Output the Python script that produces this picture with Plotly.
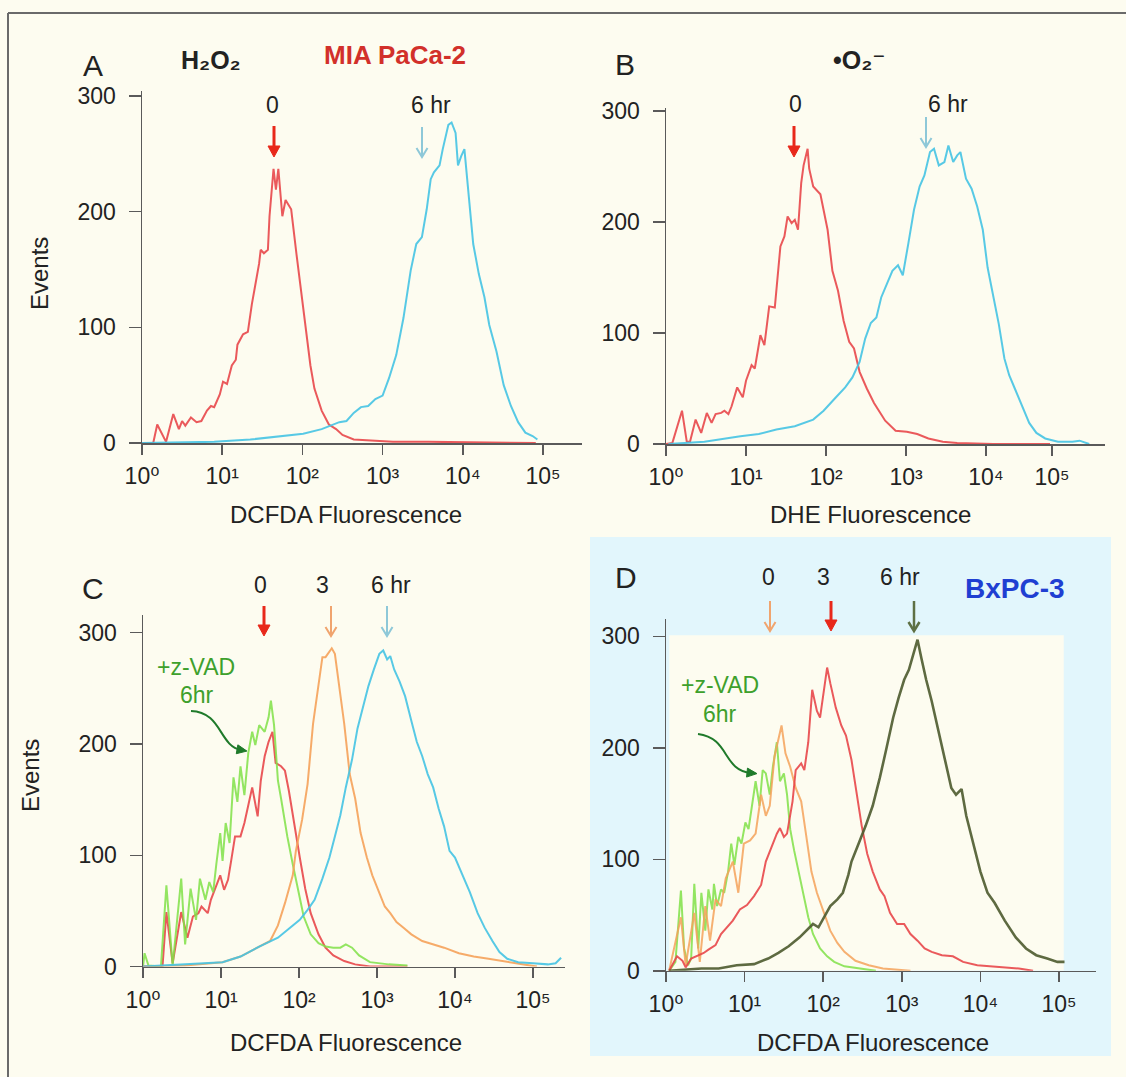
import math
import plotly.graph_objects as go

W, H = 1126, 1077
FONT = "Liberation Sans, Arial, DejaVu Sans, sans-serif"
TXT = "#222222"
AX = "#5a5a5a"

RED = "#e8474a"
CYAN = "#45c3e3"
ORANGE = "#f5a25a"
GREEN = "#80e048"
OLIVE = "#4d5a2e"

# ---------------- data (x in log10 units of fluorescence, y = events) -------------
a_red_log = [0, 0.14, 0.19, 0.25, 0.30, 0.39, 0.46, 0.50, 0.54, 0.61, 0.68, 0.74, 0.81, 0.86, 0.90,
             0.97, 1.01, 1.06, 1.12, 1.17, 1.19, 1.26, 1.32, 1.37, 1.41, 1.46, 1.48, 1.52, 1.57, 1.59,
             1.64, 1.67, 1.70, 1.75, 1.79, 1.86, 1.93, 1.99, 2.04, 2.10, 2.15, 2.24, 2.33, 2.42, 2.50,
             2.64, 2.91, 3.13, 3.57, 4.91]
a_red_cnt = [0, 0, 16, 7, 1, 25, 12, 19, 15, 22, 18, 19, 28, 32, 31,
             42, 53, 51, 67, 72, 85, 94, 96, 120, 136, 155, 167, 164, 167, 196,
             237, 219, 237, 196, 210, 202, 161, 126, 102, 67, 47, 28, 16, 12, 7,
             3, 2, 1, 1, 0]

a_cyan_log = [0, 0.90, 1.35, 1.79, 2.01, 2.24, 2.46, 2.55, 2.64, 2.73, 2.82, 2.91, 3.00, 3.08, 3.17,
              3.26, 3.35, 3.42, 3.49, 3.55, 3.60, 3.64, 3.71, 3.75, 3.82, 3.86, 3.91, 3.94, 3.98, 4.02,
              4.06, 4.13, 4.20, 4.27, 4.33, 4.42, 4.51, 4.60, 4.69, 4.78, 4.87, 4.93]
a_cyan_cnt = [0, 1, 3, 6, 8, 12, 18, 19, 26, 31, 32, 38, 41, 56, 76,
              108, 149, 172, 178, 202, 228, 234, 240, 254, 275, 277, 268, 240, 248, 254,
              222, 172, 146, 126, 102, 79, 50, 32, 18, 9, 6, 3]

b_red_log = [0, 0.08, 0.20, 0.26, 0.30, 0.37, 0.44, 0.51, 0.57, 0.62, 0.69, 0.73, 0.78, 0.82, 0.89,
             0.96, 1.00, 1.07, 1.11, 1.18, 1.23, 1.29, 1.36, 1.43, 1.48, 1.52, 1.57, 1.61, 1.65, 1.69,
             1.72, 1.77, 1.79, 1.84, 1.93, 2.02, 2.08, 2.15, 2.22, 2.29, 2.35, 2.42, 2.51, 2.60, 2.74,
             2.87, 3.01, 3.14, 3.28, 3.46, 3.64, 4.09, 4.80]
b_red_cnt = [0, 1, 30, 2, 2, 22, 10, 28, 19, 27, 28, 30, 27, 34, 51,
             42, 57, 71, 68, 98, 89, 124, 123, 178, 187, 205, 199, 202, 193, 235,
             251, 266, 248, 232, 225, 193, 156, 138, 111, 92, 86, 65, 50, 37, 21,
             12, 11, 9, 5, 2, 1, 0, 0]

b_cyan_log = [0.03, 0.48, 0.93, 1.16, 1.38, 1.61, 1.84, 1.97, 2.11, 2.24, 2.33, 2.42, 2.49, 2.56, 2.63,
              2.69, 2.76, 2.83, 2.90, 2.96, 3.03, 3.10, 3.17, 3.23, 3.30, 3.35, 3.41, 3.48, 3.53, 3.59,
              3.64, 3.68, 3.75, 3.82, 3.89, 3.96, 4.02, 4.09, 4.16, 4.23, 4.29, 4.36, 4.45, 4.54, 4.63,
              4.74, 4.90, 5.08, 5.17, 5.29]
b_cyan_cnt = [0, 2, 7, 9, 13, 16, 22, 30, 41, 51, 60, 74, 95, 109, 114,
              132, 144, 156, 161, 152, 181, 211, 232, 242, 263, 266, 251, 254, 269, 254,
              260, 263, 239, 230, 214, 193, 159, 132, 108, 77, 62, 50, 34, 19, 10,
              5, 2, 2, 3, 0]

c_red_log = [0, 0.25, 0.30, 0.38, 0.49, 0.57, 0.64, 0.71, 0.75, 0.83, 0.87, 0.94, 0.99, 1.04, 1.09,
             1.13, 1.18, 1.25, 1.30, 1.35, 1.40, 1.47, 1.51, 1.56, 1.61, 1.66, 1.70, 1.77, 1.82, 1.87,
             1.94, 2.01, 2.08, 2.15, 2.25, 2.34, 2.44, 2.58, 2.72, 2.91, 3.39]
c_red_cnt = [0, 0, 49, 3, 49, 26, 45, 48, 54, 48, 60, 73, 82, 69, 78,
             95, 117, 117, 129, 145, 161, 135, 167, 189, 202, 211, 183, 180, 176, 158,
             126, 98, 70, 48, 29, 17, 10, 5, 2, 0, 0]

c_green_log = [0, 0.02, 0.07, 0.23, 0.30, 0.38, 0.49, 0.54, 0.61, 0.68, 0.73, 0.80, 0.85, 0.90, 0.94,
               0.99, 1.02, 1.06, 1.11, 1.16, 1.21, 1.25, 1.30, 1.35, 1.40, 1.44, 1.49, 1.56, 1.61, 1.64,
               1.68, 1.73, 1.77, 1.85, 1.92, 1.99, 2.06, 2.15, 2.25, 2.34, 2.44, 2.53, 2.60, 2.68, 2.77,
               2.91, 3.15, 3.39]
c_green_cnt = [0, 12, 1, 0, 73, 1, 79, 20, 70, 42, 79, 60, 76, 67, 92,
               120, 95, 129, 111, 170, 148, 180, 154, 192, 211, 199, 217, 211, 224, 239,
               217, 167, 151, 117, 92, 67, 45, 29, 21, 18, 17, 17, 20, 17, 10,
               4, 2, 1]

c_orange_log = [0, 0.54, 1.02, 1.25, 1.49, 1.63, 1.73, 1.82, 1.92, 1.96, 2.04, 2.11, 2.18, 2.25, 2.30,
                2.34, 2.42, 2.46, 2.51, 2.58, 2.65, 2.72, 2.79, 2.87, 2.94, 3.01, 3.10, 3.17, 3.25, 3.34,
                3.44, 3.58, 3.72, 3.86, 4.05, 4.24, 4.43, 4.62, 4.81, 5.05]
c_orange_cnt = [0, 1, 4, 9, 18, 23, 37, 57, 82, 104, 132, 164, 218, 256, 278,
                278, 286, 281, 256, 218, 173, 151, 120, 98, 82, 70, 54, 48, 40, 35,
                29, 23, 20, 17, 12, 9, 7, 5, 3, 0]

c_cyan_log = [0, 0.54, 1.02, 1.25, 1.49, 1.73, 1.92, 2.01, 2.11, 2.20, 2.30, 2.39, 2.46, 2.53, 2.60,
              2.68, 2.75, 2.82, 2.89, 2.96, 3.03, 3.08, 3.13, 3.17, 3.22, 3.29, 3.36, 3.44, 3.51, 3.58,
              3.65, 3.72, 3.79, 3.86, 3.93, 4.00, 4.10, 4.19, 4.29, 4.38, 4.48, 4.57, 4.67, 4.81, 5.00,
              5.19, 5.29, 5.36]
c_cyan_cnt = [0, 2, 4, 9, 18, 26, 37, 42, 51, 60, 79, 98, 117, 136, 161,
              186, 214, 233, 252, 267, 281, 284, 276, 279, 267, 256, 243, 221, 202, 189,
              173, 161, 142, 126, 104, 98, 82, 67, 48, 35, 23, 13, 7, 4, 3,
              2, 3, 8]

d_green_log = [0.04, 0.12, 0.19, 0.23, 0.28, 0.32, 0.36, 0.41, 0.45, 0.50, 0.54, 0.59, 0.61, 0.65, 0.70,
               0.74, 0.79, 0.83, 0.87, 0.92, 0.96, 1.01, 1.05, 1.10, 1.14, 1.19, 1.23, 1.27, 1.32, 1.36,
               1.41, 1.45, 1.50, 1.54, 1.58, 1.63, 1.67, 1.74, 1.81, 1.87, 1.96, 2.05, 2.14, 2.27, 2.45,
               2.67]
d_green_cnt = [0, 8, 72, 20, 5, 11, 78, 20, 70, 36, 73, 55, 78, 58, 73,
               70, 89, 114, 95, 120, 114, 133, 127, 152, 170, 148, 180, 177, 158, 183,
               205, 170, 177, 158, 127, 108, 95, 70, 48, 33, 20, 13, 8, 4, 2,
               0]

d_orange_log = [0.04, 0.19, 0.25, 0.36, 0.43, 0.50, 0.56, 0.63, 0.70, 0.76, 0.85, 0.92, 0.99, 1.07, 1.14,
                1.21, 1.27, 1.32, 1.38, 1.43, 1.47, 1.52, 1.58, 1.65, 1.72, 1.78, 1.85, 1.92, 2.01, 2.09,
                2.18, 2.27, 2.41, 2.58, 2.76, 3.11]
d_orange_cnt = [0, 48, 5, 52, 8, 58, 27, 64, 58, 83, 98, 70, 114, 117, 123,
                158, 139, 148, 192, 208, 220, 195, 183, 164, 152, 123, 89, 70, 52, 36,
                25, 17, 9, 5, 2, 0]

d_red_log = [0.04, 0.14, 0.21, 0.25, 0.32, 0.41, 0.48, 0.54, 0.63, 0.70, 0.76, 0.85, 0.94, 1.03, 1.12,
             1.21, 1.27, 1.34, 1.41, 1.45, 1.50, 1.54, 1.61, 1.65, 1.72, 1.76, 1.81, 1.86, 1.92, 1.96,
             2.01, 2.05, 2.09, 2.16, 2.23, 2.29, 2.36, 2.43, 2.49, 2.56, 2.63, 2.72, 2.78, 2.85, 2.94,
             3.03, 3.11, 3.20, 3.29, 3.38, 3.51, 3.65, 3.78, 3.96, 4.14, 4.31, 4.49, 4.67]
d_red_cnt = [0, 13, 9, 3, 11, 14, 16, 19, 23, 33, 38, 45, 55, 59, 67,
             77, 98, 111, 123, 128, 120, 123, 152, 180, 186, 180, 205, 252, 233, 227,
             255, 272, 258, 236, 220, 211, 189, 158, 130, 105, 89, 73, 67, 52, 42,
             42, 33, 27, 20, 17, 14, 13, 8, 5, 4, 3, 2, 0]

d_olive_log = [0.04, 0.45, 0.67, 0.90, 1.12, 1.30, 1.43, 1.56, 1.70, 1.81, 1.87, 1.94, 2.01, 2.09, 2.18,
               2.25, 2.32, 2.36, 2.45, 2.54, 2.63, 2.72, 2.80, 2.89, 2.96, 3.03, 3.09, 3.16, 3.20, 3.25,
               3.31, 3.38, 3.47, 3.56, 3.63, 3.69, 3.76, 3.82, 3.91, 4.00, 4.09, 4.18, 4.31, 4.45, 4.58,
               4.71, 4.85, 4.98, 5.07]
d_olive_cnt = [0, 2, 2, 5, 6, 11, 16, 22, 30, 38, 42, 39, 48, 58, 64,
               70, 86, 98, 114, 130, 148, 173, 198, 227, 245, 261, 270, 288, 297, 280,
               261, 242, 214, 183, 164, 158, 163, 139, 114, 89, 70, 61, 45, 30, 20,
               14, 11, 8, 8]

y_ticks = [0, 100, 200, 300]
x_tick_exp = [0, 1, 2, 3, 4, 5]
x_tick_text = ["10⁰", "10¹", "10²", "10³", "10⁴", "10⁵"]
# panel B: the printed 10^5 label sits at ~10^4.83 in the source figure
b_tick_exp = [0, 1, 2, 3, 4, 4.825]

# ---------------- layout geometry (pixels) ----------------
geo = {
    1: dict(left=142, right=582, bottom=443, top=91, decade=80.2, per100=115.7, ticks=x_tick_exp),
    2: dict(left=666, right=1105, bottom=444, top=108, decade=80.0, per100=111.0, ticks=b_tick_exp),
    3: dict(left=143, right=565, bottom=966.6, top=615, decade=78.0, per100=111.3, ticks=x_tick_exp),
    4: dict(left=666, right=1096, bottom=970.8, top=619, decade=78.6, per100=111.5, ticks=x_tick_exp),
}


def fx(p):
    return p / W


def fy(p):
    return 1 - p / H


fig = go.Figure()


def add_curve(panel, logs, cnts, color, width=2.0, opacity=0.9):
    fig.add_trace(go.Scatter(
        x=[10 ** v for v in logs], y=cnts, mode="lines",
        line=dict(color=color, width=width), opacity=opacity,
        xaxis="x" if panel == 1 else "x%d" % panel,
        yaxis="y" if panel == 1 else "y%d" % panel,
        hoverinfo="skip", showlegend=False))


add_curve(1, a_red_log, a_red_cnt, RED)
add_curve(1, a_cyan_log, a_cyan_cnt, CYAN)
add_curve(2, b_red_log, b_red_cnt, RED)
add_curve(2, b_cyan_log, b_cyan_cnt, CYAN)
add_curve(3, c_red_log, c_red_cnt, RED)
add_curve(3, c_green_log, c_green_cnt, GREEN, opacity=0.85)
add_curve(3, c_orange_log, c_orange_cnt, ORANGE)
add_curve(3, c_cyan_log, c_cyan_cnt, CYAN)
add_curve(4, d_green_log, d_green_cnt, GREEN, opacity=0.85)
add_curve(4, d_orange_log, d_orange_cnt, ORANGE, opacity=0.85)
add_curve(4, d_red_log, d_red_cnt, RED)
add_curve(4, d_olive_log, d_olive_cnt, OLIVE, width=2.6)

layout = dict(
    width=W, height=H, autosize=False,
    margin=dict(l=0, r=0, t=0, b=0, pad=0, autoexpand=False),
    paper_bgcolor="#fdfcf0", plot_bgcolor="rgba(0,0,0,0)",
    showlegend=False, hovermode=False,
    font=dict(family=FONT, color=TXT),
)

for p, g in geo.items():
    sx = "" if p == 1 else str(p)
    xmax = (g["right"] - g["left"]) / g["decade"]
    ymax = (g["bottom"] - g["top"]) / g["per100"] * 100
    layout["xaxis" + sx] = dict(
        type="log", range=[0, xmax], domain=[fx(g["left"]), fx(g["right"])],
        anchor="y" + sx, showline=True, linecolor=AX, linewidth=1.5,
        ticks="outside", ticklen=10, tickwidth=1.5, tickcolor=AX,
        tickvals=[10 ** e for e in g["ticks"]], ticktext=x_tick_text,
        tickfont=dict(family=FONT, size=23, color=TXT), ticklabelstandoff=2,
        showgrid=False, zeroline=False, fixedrange=True, automargin=False)
    layout["yaxis" + sx] = dict(
        range=[0, ymax], domain=[fy(g["bottom"]), fy(g["top"])],
        anchor="x" + sx, showline=True, linecolor=AX, linewidth=1.5,
        ticks="outside", ticklen=12, tickwidth=1.5, tickcolor=AX,
        tickvals=y_ticks, tickfont=dict(family=FONT, size=23, color=TXT),
        ticklabelstandoff=8, showgrid=False, zeroline=False, fixedrange=True, automargin=False)

fig.update_layout(**layout)

shapes = []
# outer frame (top + left lines)
shapes.append(dict(type="line", xref="paper", yref="paper", x0=fx(8), x1=1, y0=fy(13), y1=fy(13),
                   line=dict(color="#6a6a6a", width=2)))
shapes.append(dict(type="line", xref="paper", yref="paper", x0=fx(8), x1=fx(8), y0=fy(13), y1=0,
                   line=dict(color="#6a6a6a", width=2)))
# panel D light-blue background
shapes.append(dict(type="rect", xref="paper", yref="paper", layer="below",
                   x0=fx(590), x1=fx(1111), y0=fy(1056), y1=fy(537),
                   fillcolor="#e2f6fc", line=dict(width=0)))
# panel D cream plotting area
shapes.append(dict(type="rect", xref="x4", yref="y4", layer="below",
                   x0=1.1, x1=1.15e5, y0=0, y1=301,
                   fillcolor="#fdfcf0", line=dict(width=0)))


def pth(points, close=False):
    s = "M " + " L ".join("%f,%f" % (fx(x), fy(y)) for x, y in points)
    return s + (" Z" if close else "")


def down_arrow(x, ytail, ytip, color, width=2, filled=False):
    if filled:
        shapes.append(dict(type="line", xref="paper", yref="paper", x0=fx(x), x1=fx(x),
                           y0=fy(ytail), y1=fy(ytip - 8), line=dict(color=color, width=width)))
        shapes.append(dict(type="path", xref="paper", yref="paper",
                           path=pth([(x - 6, ytip - 11), (x + 6, ytip - 11), (x, ytip)], close=True),
                           fillcolor=color, line=dict(color=color, width=1)))
    else:
        shapes.append(dict(type="line", xref="paper", yref="paper", x0=fx(x), x1=fx(x),
                           y0=fy(ytail), y1=fy(ytip - 1), line=dict(color=color, width=width)))
        shapes.append(dict(type="path", xref="paper", yref="paper",
                           path=pth([(x - 5.5, ytip - 9), (x, ytip), (x + 5.5, ytip - 9)]),
                           line=dict(color=color, width=width)))


def curved_arrow(p0, c1, c2, p3, color="#1f7a2a"):
    shapes.append(dict(type="path", xref="paper", yref="paper",
                       path="M %f,%f C %f,%f %f,%f %f,%f" % (fx(p0[0]), fy(p0[1]), fx(c1[0]), fy(c1[1]),
                                                             fx(c2[0]), fy(c2[1]), fx(p3[0]), fy(p3[1])),
                       line=dict(color=color, width=2)))
    dx, dy = p3[0] - c2[0], p3[1] - c2[1]
    n = math.hypot(dx, dy)
    ux, uy = dx / n, dy / n
    tip = (p3[0] + 6 * ux, p3[1] + 6 * uy)
    base = (tip[0] - 10 * ux, tip[1] - 10 * uy)
    px_, py_ = -uy, ux
    shapes.append(dict(type="path", xref="paper", yref="paper",
                       path=pth([tip, (base[0] + 4.5 * px_, base[1] + 4.5 * py_),
                                 (base[0] - 4.5 * px_, base[1] - 4.5 * py_)], close=True),
                       fillcolor=color, line=dict(color=color, width=1)))


# time-point arrows
down_arrow(274, 126, 157, "#e8281a", width=3, filled=True)
down_arrow(422, 127, 157, "#8ec8d8", width=2)
down_arrow(794, 126, 157, "#e8281a", width=3, filled=True)
down_arrow(926, 117, 147, "#8ec8d8", width=2)
down_arrow(264, 606, 636, "#e8281a", width=3, filled=True)
down_arrow(331, 606, 636, "#f0a46e", width=2)
down_arrow(387, 606, 636, "#8ec8d8", width=2)
down_arrow(770, 601, 631, "#f0a46e", width=2)
down_arrow(831, 601, 631, "#e8281a", width=3, filled=True)
down_arrow(914, 601, 631, "#5e7044", width=2.5)

# curved "+z-VAD" arrows
curved_arrow((191, 711), (222, 712), (219, 746), (241, 750))
curved_arrow((698, 734), (730, 738), (722, 770), (751, 773))

fig.update_layout(shapes=shapes)

ann = []


def text(x, y, s, size=22, color=TXT, bold=False, angle=0):
    ann.append(dict(xref="paper", yref="paper", x=fx(x), y=fy(y), text=("<b>%s</b>" % s) if bold else s,
                    showarrow=False, xanchor="center", yanchor="middle", textangle=angle,
                    font=dict(family=FONT, size=size, color=color)))


# panel letters and titles
text(93, 66, "A", size=30)
text(625, 64, "B", size=30)
text(93, 588, "C", size=30)
text(626, 577, "D", size=30)
text(211, 60, "H₂O₂", size=25, bold=True)
text(395, 55, "MIA PaCa-2", size=26, color="#d2302a", bold=True)
text(860, 60, "•O₂⁻", size=25, bold=True)
text(1015, 588, "BxPC-3", size=28, color="#1f3fd2", bold=True)

# time labels
text(272, 105, "0", size=23)
text(431, 105, "6 hr", size=23)
text(795, 104, "0", size=23)
text(948, 104, "6 hr", size=23)
text(260, 585, "0", size=23)
text(322, 585, "3", size=23)
text(391, 585, "6 hr", size=23)
text(768, 577, "0", size=23)
text(823, 577, "3", size=23)
text(900, 577, "6 hr", size=23)

# z-VAD labels
text(196, 667, "+z-VAD", size=23, color="#3ea02c")
text(197, 695, "6hr", size=23, color="#3ea02c")
text(720, 685, "+z-VAD", size=23, color="#3ea02c")
text(720, 714, "6hr", size=23, color="#3ea02c")

# axis titles
text(346, 514, "DCFDA Fluorescence", size=24)
text(870, 514, "DHE Fluorescence", size=24)
text(346, 1042, "DCFDA Fluorescence", size=24)
text(873, 1042, "DCFDA Fluorescence", size=24)
text(39, 274, "Events", size=24, angle=-90)
text(30, 775, "Events", size=24, angle=-90)

fig.update_layout(annotations=ann)
fig.write_html(
    "out.html",
    config={"displayModeBar": False, "staticPlot": True},
    post_script="document.body.style.margin='0';document.body.style.overflow='hidden';"
                "document.documentElement.style.overflow='hidden';",
)
